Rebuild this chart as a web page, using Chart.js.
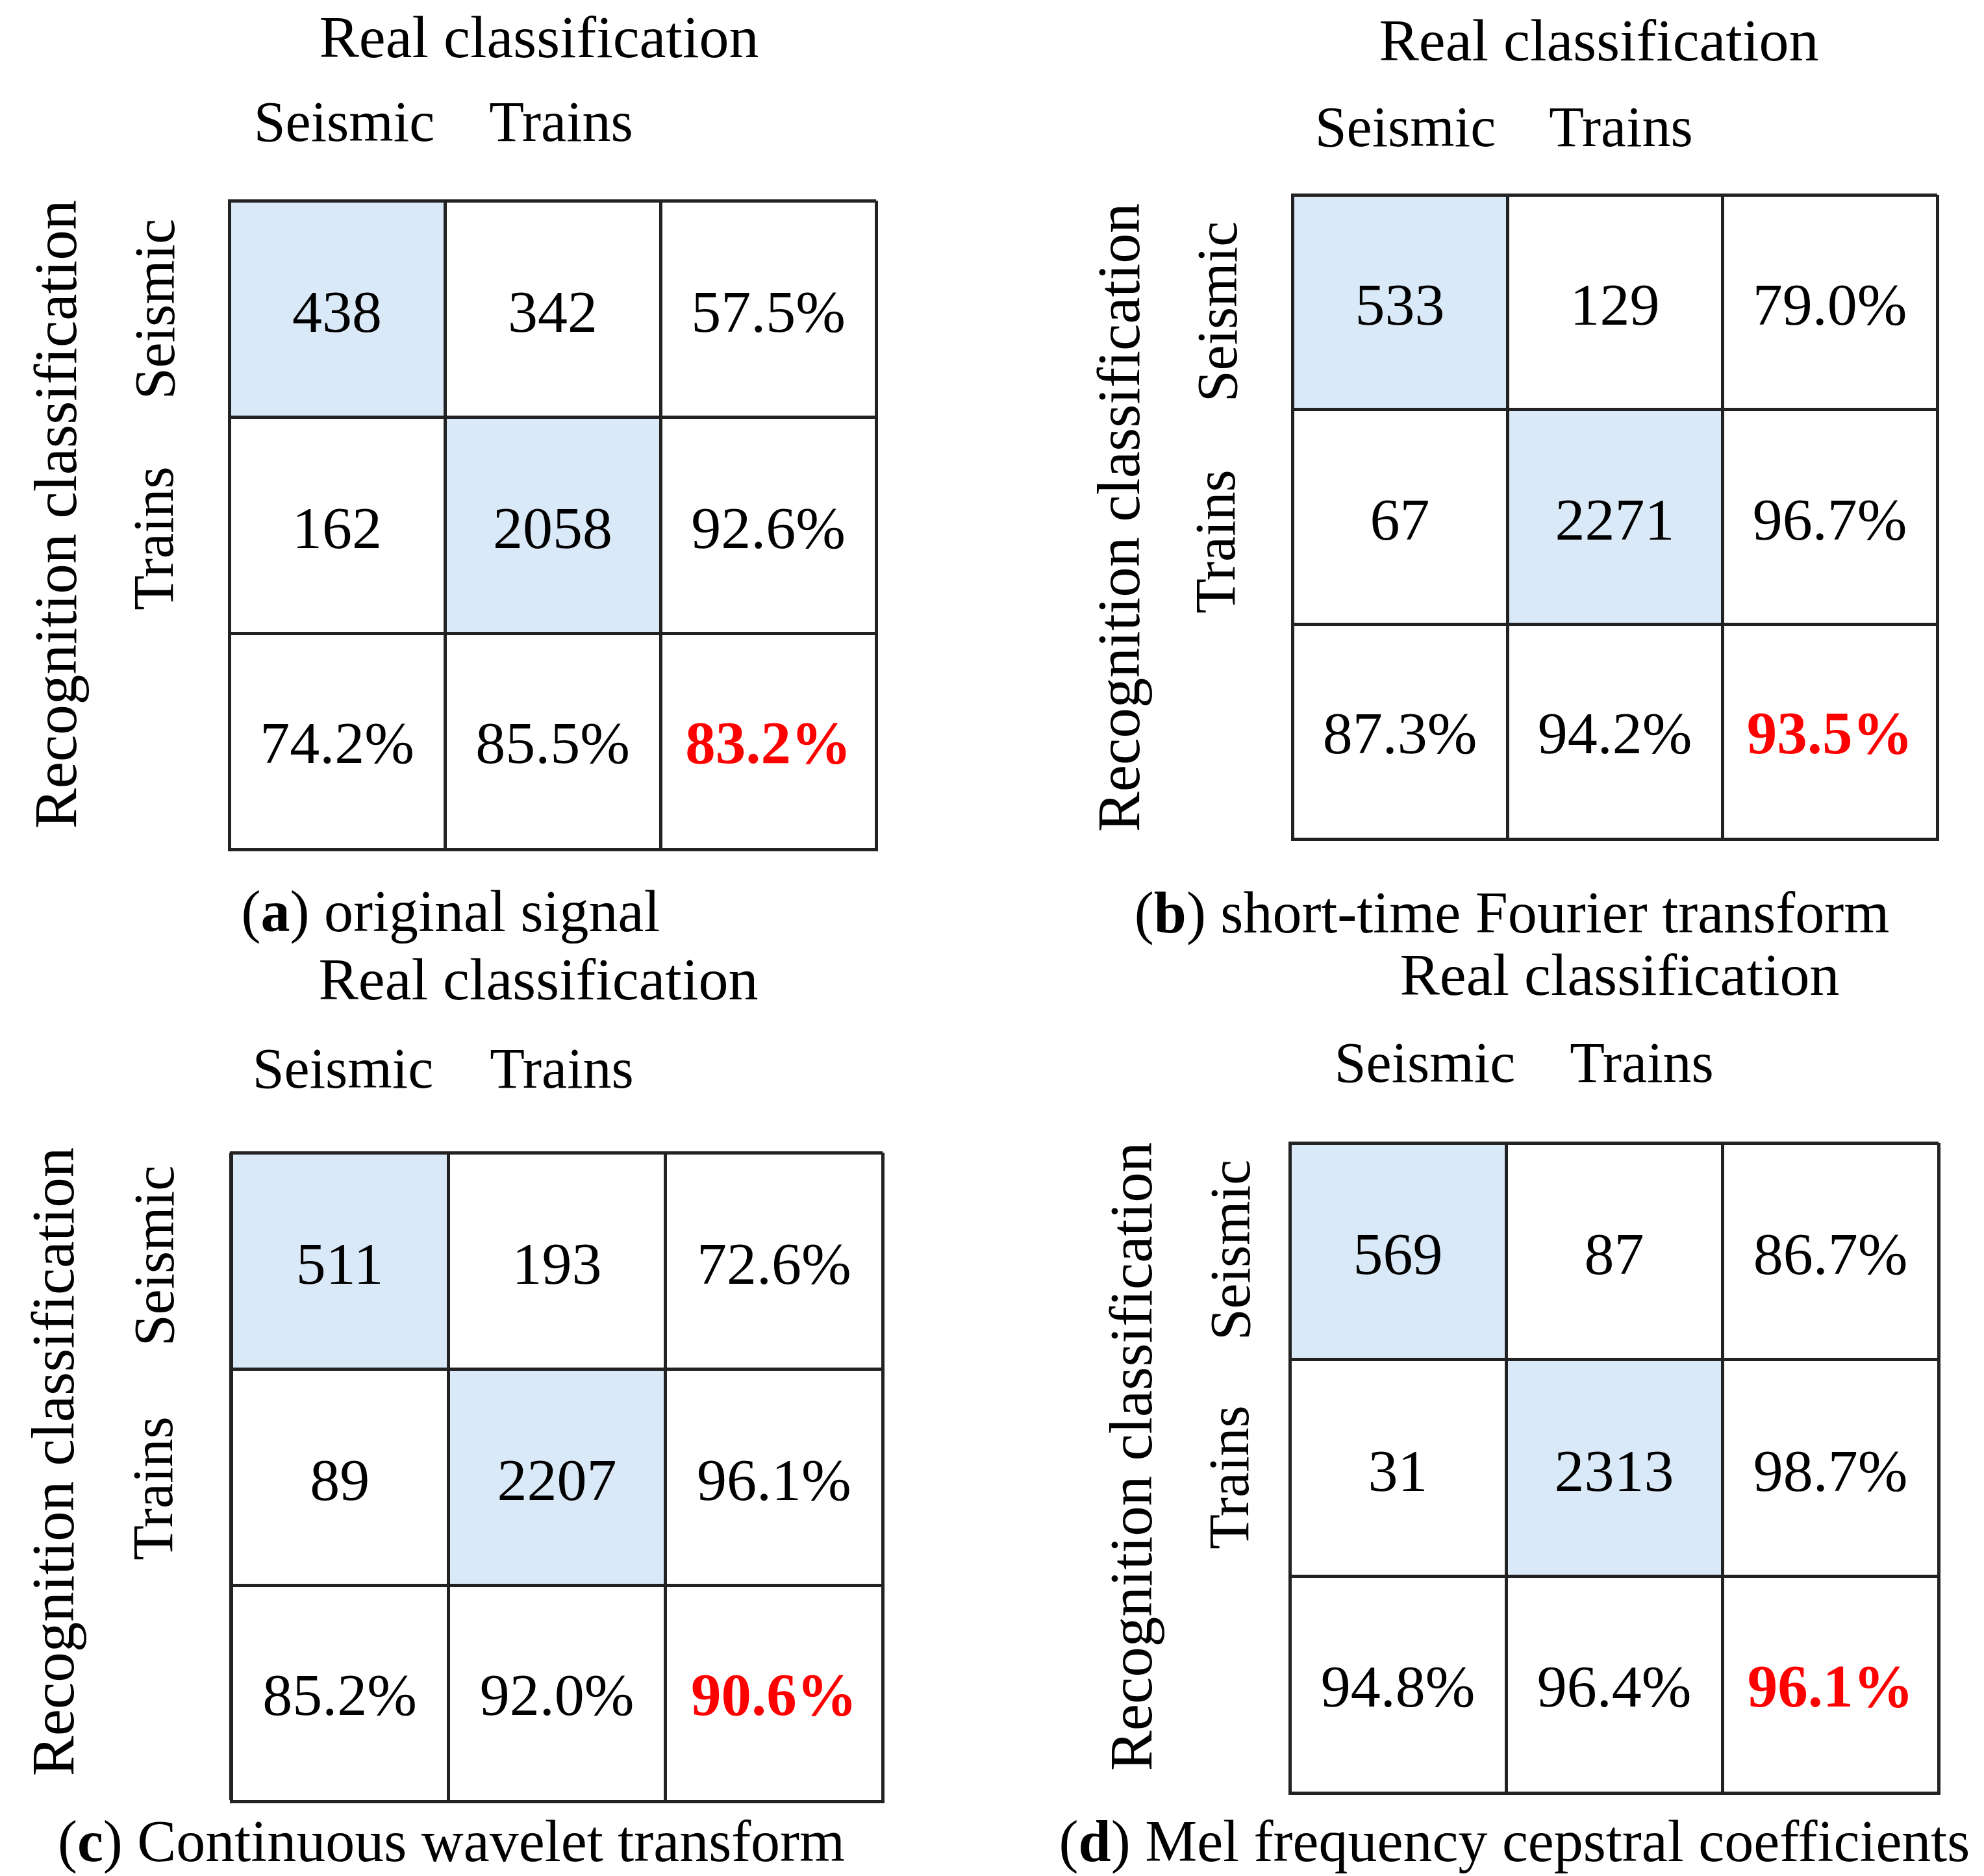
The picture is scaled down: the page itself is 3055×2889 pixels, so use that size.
<!DOCTYPE html>
<html>
<head>
<meta charset="utf-8">
<script src="https://cdn.jsdelivr.net/npm/chart.js@4.4.1/dist/chart.umd.min.js"></script>
<style>
  html, body { margin: 0; padding: 0; background: #fff; }
  body { width: 3055px; height: 2889px; position: relative; overflow: hidden; font-family: "Liberation Serif", serif; color: #000; }
  .lbl { position: absolute; white-space: nowrap; line-height: 1; }
  .box { position: absolute; }
</style>
</head>
<body>
<script>
// labels
var realTitle = "Real classification";
var recogTitle = "Recognition classification";
var classNames = ["Seismic", "Trains"];
var captionKeys = ["a", "b", "c", "d"];
var captionTexts = ["original signal", "short-time Fourier transform", "Continuous wavelet transform", "Mel frequency cepstral coefficients"];

// (a) original signal
var countsA = [[438, 342], [162, 2058]];
var rowAccA = [57.5, 92.6];
var colAccA = [74.2, 85.5];
var totalA = 83.2;

// (b) STFT
var countsB = [[533, 129], [67, 2271]];
var rowAccB = [79.0, 96.7];
var colAccB = [87.3, 94.2];
var totalB = 93.5;

// (c) CWT
var countsC = [[511, 193], [89, 2207]];
var rowAccC = [72.6, 96.1];
var colAccC = [85.2, 92.0];
var totalC = 90.6;

// (d) MFCC
var countsD = [[569, 87], [31, 2313]];
var rowAccD = [86.7, 98.7];
var colAccD = [94.8, 96.4];
var totalD = 96.1;

var allCounts = [countsA, countsB, countsC, countsD];
var allRowAcc = [rowAccA, rowAccB, rowAccC, rowAccD];
var allColAcc = [colAccA, colAccB, colAccC, colAccD];
var allTotal = [totalA, totalB, totalC, totalD];

// where each panel sits on the page (grid = left, top, right, bottom)
var layout = [
  { grid: [353, 309, 1349, 1308], title: [830, 88], cols: [[530, 218], [864, 218]], rows: [[269, 476], [267, 829]], recog: [116, 792], caption: [694, 1434] },
  { grid: [1990, 300, 2983, 1292], title: [2462, 93], cols: [[2164, 226], [2496, 226]], rows: [[1905, 480], [1902, 834]], recog: [1753, 797], caption: [2328, 1436] },
  { grid: [356, 1775, 1359, 2774], title: [829, 1539], cols: [[528, 1676], [865, 1676]], rows: [[268, 1934], [266, 2292]], recog: [112, 2251], caption: [695, 2866] },
  { grid: [1986, 1760, 2985, 2761], title: [2494, 1532], cols: [[2194, 1667], [2528, 1667]], rows: [[1925, 1925], [1923, 2275]], recog: [1772, 2243], caption: [2332, 2866] }
];

var blue = "#dae9f7";
var lineColor = "#222";
var pad = 4;

function pct(v) {
  return v.toFixed(1) + "%";
}

function addText(html, fs, x, y, rotated, weight) {
  var d = document.createElement("div");
  d.className = "lbl";
  d.innerHTML = html;
  d.style.fontSize = fs + "px";
  if (weight) d.style.fontWeight = weight;
  if (rotated) {
    // x = baseline position, y = centre of the text run
    d.style.left = (x - 0.3375 * fs) + "px";
    d.style.top = y + "px";
    d.style.transform = "translate(-50%, -50%) rotate(-90deg)";
  } else {
    // x = centre, y = baseline
    d.style.left = x + "px";
    d.style.top = (y - 0.8375 * fs) + "px";
    d.style.transform = "translateX(-50%)";
  }
  document.body.appendChild(d);
}

function cellPlugin(cells) {
  return {
    id: "cellText",
    afterDraw: function (chart) {
      var ctx = chart.ctx;
      ctx.save();
      chart.data.datasets.forEach(function (ds, i) {
        var meta = chart.getDatasetMeta(i);
        var r = 2 - i;
        meta.data.forEach(function (bar, c) {
          var cy = (bar.y + bar.base) / 2;
          var bold = r === 2 && c === 2;
          ctx.font = (bold ? "bold 93px" : "92px") + ' "Liberation Serif", serif';
          ctx.fillStyle = bold ? "#ff0000" : "#000";
          ctx.textAlign = "center";
          ctx.textBaseline = "alphabetic";
          ctx.fillText(cells[r][c], bar.x, cy + 35);
        });
      });
      ctx.restore();
    }
  };
}

function drawPanel(k) {
  var p = layout[k];
  var counts = allCounts[k];
  var rowAcc = allRowAcc[k];
  var colAcc = allColAcc[k];

  // texts, top row to bottom row
  var cells = [
    [String(counts[0][0]), String(counts[0][1]), pct(rowAcc[0])],
    [String(counts[1][0]), String(counts[1][1]), pct(rowAcc[1])],
    [pct(colAcc[0]), pct(colAcc[1]), pct(allTotal[k])]
  ];
  var fills = [
    [blue, "#fff", "#fff"],
    ["#fff", blue, "#fff"],
    ["#fff", "#fff", "#fff"]
  ];

  // stacked bars go bottom-up, so the last row comes first
  var datasets = [];
  for (var r = 2; r >= 0; r--) {
    datasets.push({
      data: [1, 1, 1],
      backgroundColor: fills[r],
      borderWidth: 0,
      barPercentage: 1,
      categoryPercentage: 1
    });
  }

  var g = p.grid;
  var box = document.createElement("div");
  box.className = "box";
  box.style.left = (g[0] - pad) + "px";
  box.style.top = (g[1] - pad) + "px";
  box.style.width = (g[2] - g[0] + 2 * pad) + "px";
  box.style.height = (g[3] - g[1] + 2 * pad) + "px";
  var canvas = document.createElement("canvas");
  box.appendChild(canvas);
  document.body.appendChild(box);

  new Chart(canvas, {
    type: "bar",
    data: { labels: [classNames[0], classNames[1], "Accuracy"], datasets: datasets },
    options: {
      responsive: true,
      maintainAspectRatio: false,
      animation: false,
      devicePixelRatio: 1,
      layout: { padding: pad },
      plugins: { legend: { display: false }, tooltip: { enabled: false } },
      scales: {
        x: {
          stacked: true,
          offset: true,
          ticks: { display: false },
          grid: { offset: true, color: lineColor, lineWidth: 5, drawTicks: false, z: 1 },
          border: { display: true, color: lineColor, width: 5, z: 1 }
        },
        y: {
          stacked: true,
          min: 0,
          max: 3,
          ticks: { display: false, stepSize: 1 },
          grid: { color: lineColor, lineWidth: 5, drawTicks: false, z: 1 },
          border: { display: true, color: lineColor, width: 5, z: 1 }
        }
      }
    },
    plugins: [cellPlugin(cells)]
  });

  addText(realTitle, 92, p.title[0], p.title[1], false);
  addText(classNames[0], 88, p.cols[0][0], p.cols[0][1], false);
  addText(classNames[1], 88, p.cols[1][0], p.cols[1][1], false);
  addText(classNames[0], 88, p.rows[0][0], p.rows[0][1], true);
  addText(classNames[1], 88, p.rows[1][0], p.rows[1][1], true);
  addText(recogTitle, 93, p.recog[0], p.recog[1], true);
  addText("(<b>" + captionKeys[k] + "</b>) " + captionTexts[k], 90, p.caption[0], p.caption[1], false);
}

for (var k = 0; k < 4; k++) {
  drawPanel(k);
}
</script>
</body>
</html>
